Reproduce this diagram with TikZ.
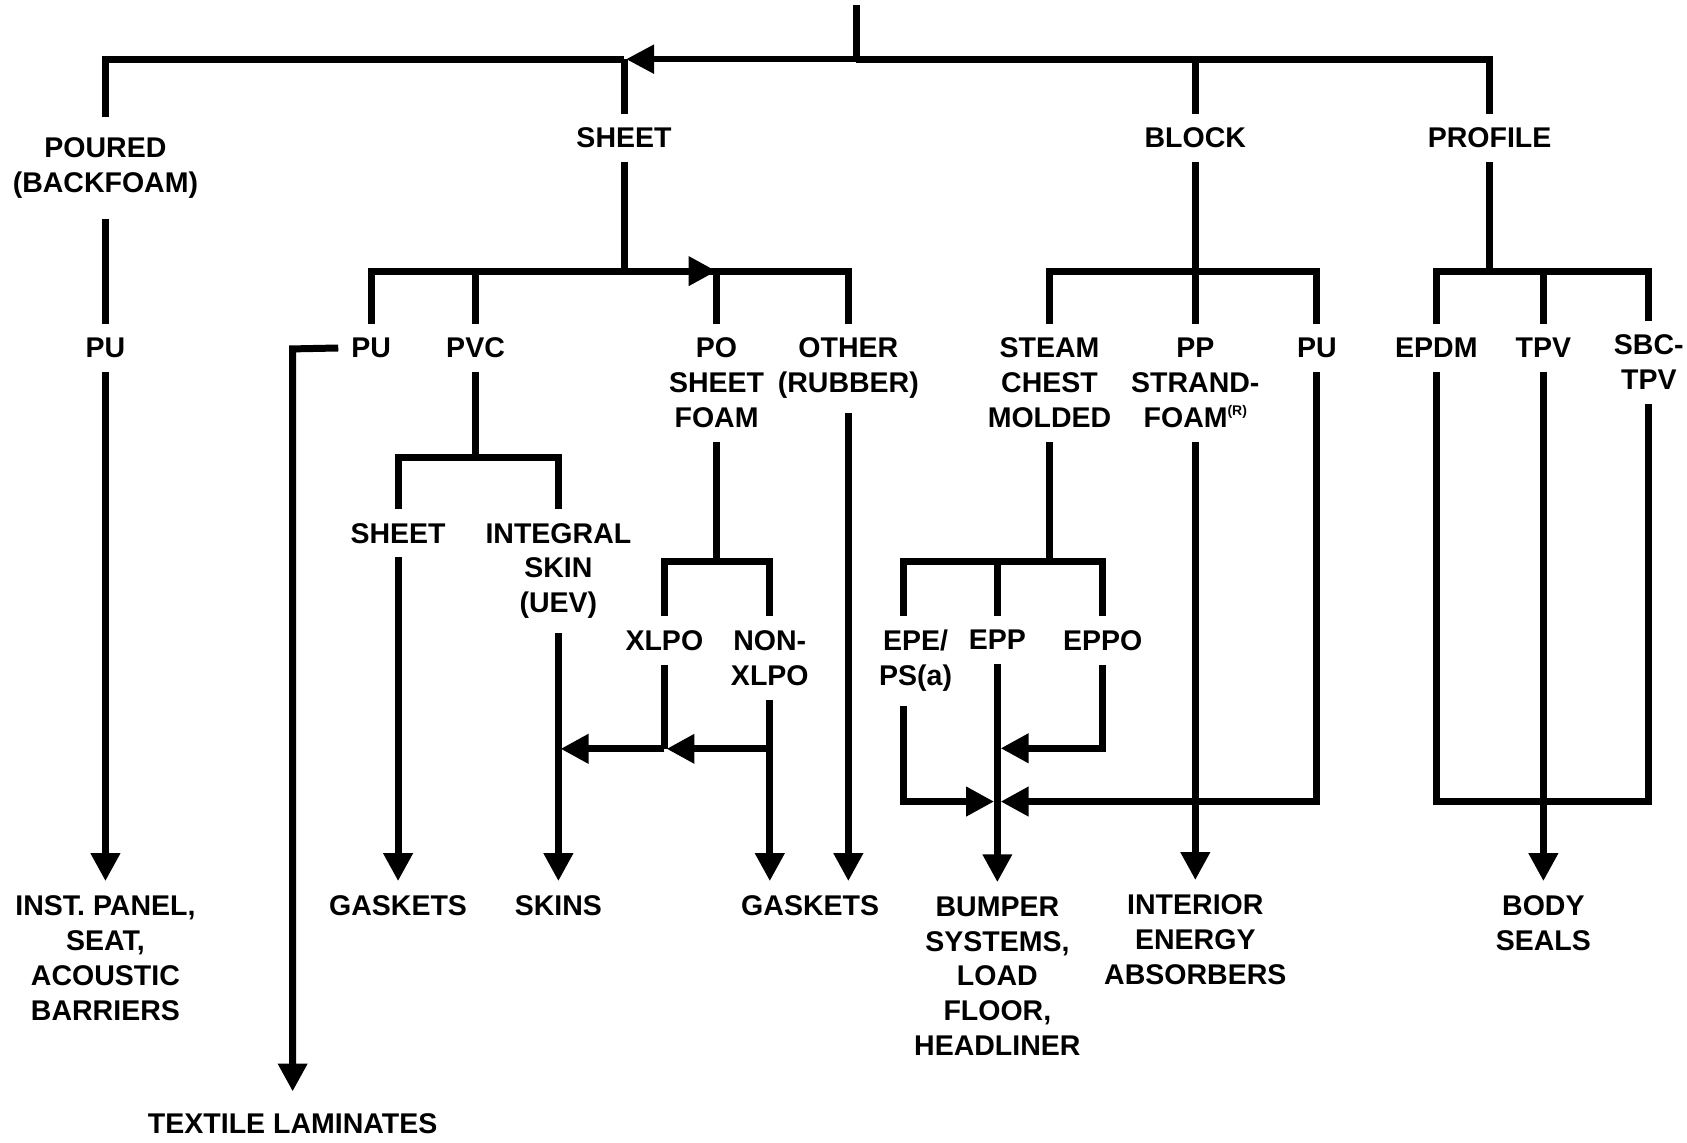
\documentclass[tikz,border=0pt]{standalone}
\usepackage{fontspec}
\setmainfont{Liberation Sans}
\usetikzlibrary{arrows.meta}
\newcommand{\regmark}{\raisebox{0.42em}{\fontsize{13}{13}\selectfont(R)}}
\begin{document}
\begin{tikzpicture}[x=1pt,y=-1pt,
  lbl/.style={font=\fontsize{26.5}{32.5}\selectfont\bfseries, align=center,
    inner xsep=12pt, inner ysep=13pt, anchor=north},
  ln/.style={line width=6.5pt, line join=miter},
  bar/.style={ln, line cap=rect},
  arr/.style={ln, -{Triangle[length=26pt,width=26pt]}},
  thinarr/.style={line width=5.3pt, -{Triangle[length=26pt,width=26pt]}},
]
\useasboundingbox (0,0) rectangle (1568,1061.5);

% ---------- labels ----------
\node[lbl, inner ysep=19pt] (poured) at (98,108.5) {POURED\\(BACKFOAM)};
\node[lbl] (sheet)   at (580,105.5)  {SHEET};
\node[lbl] (block)   at (1111,105.5) {BLOCK};
\node[lbl] (profile) at (1384.5,105.5) {PROFILE};

\node[lbl] (puP)   at (98,301)     {PU};
\node[lbl] (puS)   at (345,301)    {PU};
\node[lbl] (pvc)   at (442,301)    {PVC};
\node[lbl] (po)    at (666,301)    {PO\\SHEET\\FOAM};
\node[lbl] (other) at (788.5,301)  {OTHER\\(RUBBER)};
\node[lbl] (steam) at (975.5,301)  {STEAM\\CHEST\\MOLDED};
\node[lbl] (pp)    at (1111,301)   {PP\\STRAND-\\FOAM\regmark};
\node[lbl] (puB)   at (1224,301)   {PU};
\node[lbl] (epdm)  at (1335,301)   {EPDM};
\node[lbl] (tpv)   at (1434.5,301) {TPV};
\node[lbl] (sbc)   at (1532.5,298) {SBC-\\TPV};

\node[lbl] (shv)   at (370,473)    {SHEET};
\node[lbl] (integ) at (519,473)    {INTEGRAL\\SKIN\\(UEV)};

\node[lbl] (xlpo)  at (617.5,572.5) {XLPO};
\node[lbl] (nonx)  at (715.5,572.5) {NON-\\XLPO};
\node[lbl] (epe)   at (851,572.5)   {EPE/\\PS(a)};
\node[lbl] (epp)   at (927,572.5)   {EPP};
\node[lbl] (eppo)  at (1025,572.5)  {EPPO};

\node[lbl] (inst)     at (98,819)     {INST. PANEL,\\SEAT,\\ACOUSTIC\\BARRIERS};
\node[lbl] (gask1)    at (370,819)    {GASKETS};
\node[lbl] (skins)    at (519,819)    {SKINS};
\node[lbl] (gask2)    at (753,819)    {GASKETS};
\node[lbl] (bumper)   at (927,820)    {BUMPER\\SYSTEMS,\\LOAD\\FLOOR,\\HEADLINER};
\node[lbl] (interior) at (1111,818)   {INTERIOR\\ENERGY\\ABSORBERS};
\node[lbl] (body)     at (1434.5,819) {BODY\\SEALS};
\node[lbl, inner ysep=20pt] (textile) at (272,1014.5) {TEXTILE LAMINATES};

% ---------- junctions ----------
\coordinate (top)   at (796,5);
\coordinate (jtop)  at (796,55);
\coordinate (jP)    at (98,55);
\coordinate (jS)    at (580,55);
\coordinate (jB)    at (1111,55);
\coordinate (jR)    at (1384.5,55);

\coordinate (s2)    at (580,252);
\coordinate (s2pu)  at (345,252);
\coordinate (s2pvc) at (442,252);
\coordinate (s2po)  at (666,252);
\coordinate (s2ot)  at (788.5,252);

\coordinate (b2)    at (1111,252);
\coordinate (b2st)  at (975.5,252);
\coordinate (b2pu)  at (1224,252);

\coordinate (r2)    at (1384.5,252);
\coordinate (r2ep)  at (1335,252);
\coordinate (r2tp)  at (1434.5,252);
\coordinate (r2sb)  at (1532.5,252);

\coordinate (v3)    at (442,425);
\coordinate (v3sh)  at (370,425);
\coordinate (v3in)  at (519,425);

\coordinate (p3)    at (666,522);
\coordinate (p3x)   at (617.5,522);
\coordinate (p3n)   at (715.5,522);

\coordinate (t3)    at (975.5,522);
\coordinate (t3e)   at (840,522);
\coordinate (t3p)   at (927,522);
\coordinate (t3o)   at (1025,522);

\coordinate (hN)    at (715.5,696);
\coordinate (hX)    at (617.5,696);
\coordinate (hI)    at (519,696);

\coordinate (epeEnd) at (840,745);
\coordinate (mL)     at (924,745);
\coordinate (mR)     at (930,745);
\coordinate (eppoC)  at (1025,695.5);
\coordinate (mO)     at (930,695.5);
\coordinate (puBC)   at (1224,745);

\coordinate (rb1)   at (1335,745);
\coordinate (rb2)   at (1532.5,745);
\coordinate (texC)  at (272,324.3);

% ---------- level 0/1 ----------
\draw[ln] (top) -- (jtop);
\draw[ln] (poured.north) -- (jP) -- (jS);
\draw[ln] (jtop) -- (jR) -- (profile.north);
\draw[thinarr] (jtop) -- ([xshift=2pt]jS);
\draw[ln] (jS) -- (sheet.north);
\draw[ln] (jB) -- (block.north);

% ---------- poured ----------
\draw[ln] (poured.south) -- (puP.north);
\draw[arr] (puP.south) -- (inst.north);

% ---------- sheet ----------
\draw[ln] (sheet.south) -- (s2);
\draw[ln] (puS.north) -- (s2pu) -- (s2ot) -- (other.north);
\draw[ln] (s2pvc) -- (pvc.north);
\draw[ln] (s2po) -- (po.north);
\draw[arr] (s2) -- (s2po);

\draw[arr] (puS.west) -- (texC) -- (textile.north);

\draw[ln] (pvc.south) -- (v3);
\draw[ln] (shv.north) -- (v3sh) -- (v3in) -- (integ.north);
\draw[arr] (shv.south) -- (gask1.north);
\draw[arr] (integ.south) -- (skins.north);

\draw[ln] (po.south) -- (p3);
\draw[ln] (xlpo.north) -- (p3x) -- (p3n) -- (nonx.north);
\draw[ln] (xlpo.south) -- (hX);
\draw[arr] (hN) -- ([xshift=2pt]hX);
\draw[arr] (hX) -- ([xshift=2pt]hI);
\draw[arr] (nonx.south) -- (nonx.south |- gask2.north);
\draw[arr] (other.south) -- (other.south |- gask2.north);

% ---------- block ----------
\draw[ln] (block.south) -- (b2);
\draw[ln] (steam.north) -- (b2st) -- (b2pu) -- (puB.north);
\draw[ln] (b2) -- (pp.north);
\draw[arr] (pp.south) -- (interior.north);

\draw[ln] (steam.south) -- (t3);
\draw[ln] (t3e |- epe.north) -- (t3e) -- (t3o) -- (eppo.north);
\draw[ln] (t3p) -- (epp.north);
\draw[arr] (t3e |- epe.south) -- (epeEnd) -- (mL);
\draw[arr] (epp.south) -- (bumper.north);
\draw[arr] (eppo.south) -- (eppoC) -- (mO);
\draw[arr] (puB.south) -- (puBC) -- (mR);

% ---------- profile ----------
\draw[ln] (profile.south) -- (r2);
\draw[ln] (epdm.north) -- (r2ep) -- (r2sb) -- (sbc.north);
\draw[ln] (r2tp) -- (tpv.north);
\draw[ln] (epdm.south) -- (rb1) -- (rb2) -- (sbc.south);
\draw[arr] (tpv.south) -- (body.north);
\end{tikzpicture}
\end{document}
